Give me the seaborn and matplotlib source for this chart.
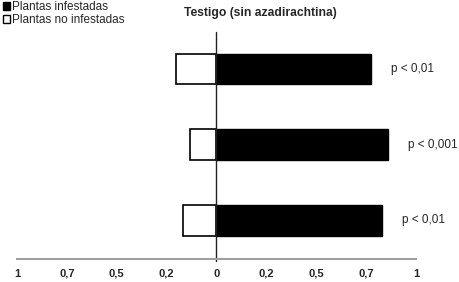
import numpy as np
import pandas as pd
import matplotlib
matplotlib.use("Agg")
import matplotlib.pyplot as plt
from matplotlib.patches import Patch
import seaborn as sns

# values (proportion of plants)
grupos = ["g1", "g2", "g3"]
infestadas = [0.775, 0.86, 0.83]
no_infestadas = [0.205, 0.135, 0.168]
p_labels = ["p < 0,01", "p < 0,001", "p < 0,01"]
tick_pos = [-1, -0.75, -0.5, -0.25, 0, 0.25, 0.5, 0.75, 1]
tick_labels = ["1", "0,7", "0,5", "0,2", "0", "0,2", "0,5", "0,7", "1"]

sns.set_style("white")
plt.rcParams["font.family"] = ["Liberation Sans", "DejaVu Sans"]

df = pd.DataFrame({"grupo": grupos,
                   "inf": infestadas,
                   "noinf": [-v for v in no_infestadas]})

fig = plt.figure(figsize=(4.6, 2.82), dpi=100)
ax = fig.add_axes([17 / 460, 23 / 282, 399 / 460, 227 / 282])

sns.barplot(data=df, x="inf", y="grupo", orient="h", color="black",
            edgecolor="black", linewidth=1.0, width=0.41, ax=ax)
sns.barplot(data=df, x="noinf", y="grupo", orient="h", color="white",
            edgecolor="black", linewidth=1.2, width=0.41, saturation=1, ax=ax)

for i, (v, lab) in enumerate(zip(infestadas, p_labels)):
    ax.text(v + 0.1, i, lab, va="center", ha="left", fontsize=8.5)

ax.axvline(0, ymin=-0.01, ymax=1, color="#222222", lw=1, clip_on=False)

ax.set_xlim(-1, 1)
ax.set_ylim(2.516, -0.49)
ax.set_xticks(tick_pos)
ax.set_xticklabels(tick_labels, fontsize=8, fontweight="bold")
ax.set_yticks([])
ax.set_xlabel("")
ax.set_ylabel("")
for s in ["left", "top", "right"]:
    ax.spines[s].set_visible(False)
ax.spines["bottom"].set_color("#a0a0a0")
ax.spines["bottom"].set_linewidth(1.5)
ax.tick_params(axis="x", length=2, width=1, color="#444444", direction="inout", pad=6)

fig.text(184 / 460, 1 - 13 / 282, "Testigo (sin azadirachtina)",
         fontsize=8.7, fontweight="bold", ha="left", va="center")

handles = [Patch(facecolor="black", edgecolor="black", label="Plantas infestadas"),
           Patch(facecolor="white", edgecolor="black", label="Plantas no infestadas")]
fig.legend(handles=handles, loc="upper left", bbox_to_anchor=(-0.012, 1.024),
           frameon=False, fontsize=8.5, handlelength=0.65, handleheight=0.65,
           handletextpad=0.15, labelspacing=0.05, borderpad=0.2)

fig.savefig("out.png", dpi=100)
